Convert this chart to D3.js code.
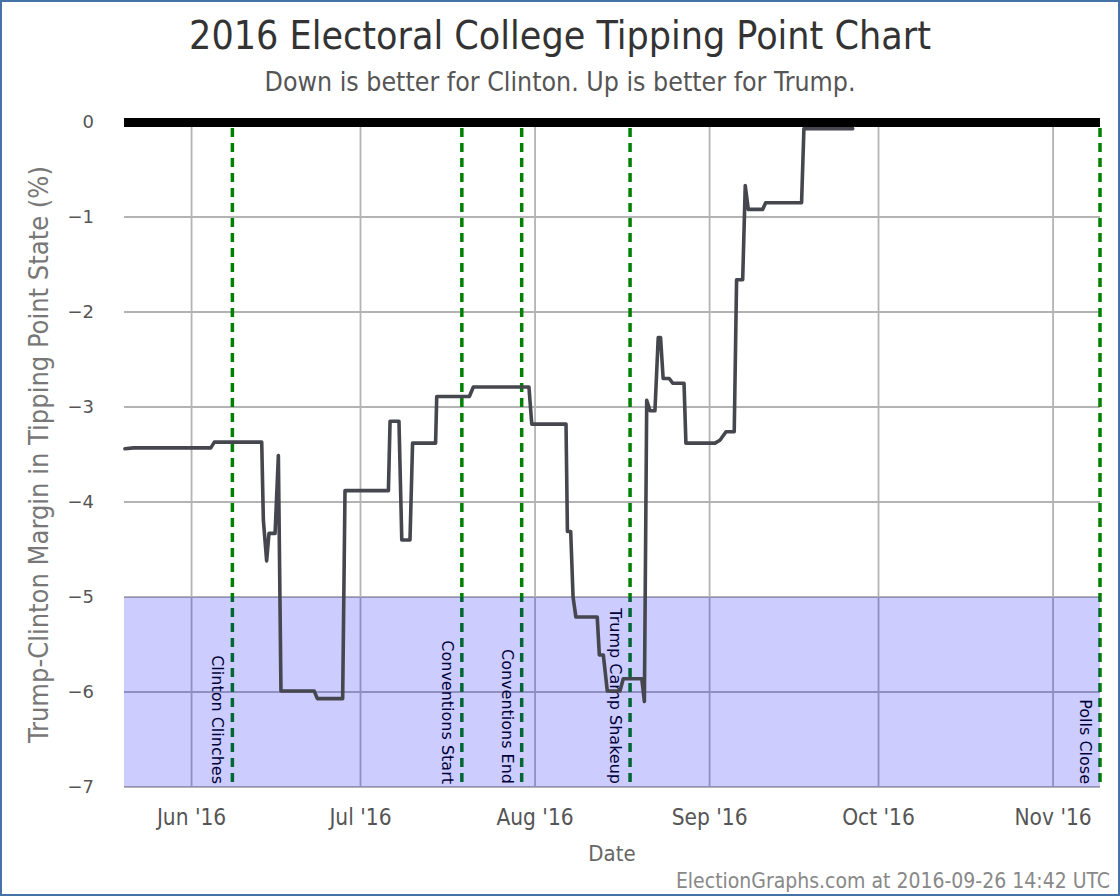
<!DOCTYPE html>
<html><head><meta charset="utf-8">
<script src="https://cdn.jsdelivr.net/npm/d3@7"></script>
<style>body{margin:0;background:#fff}svg{display:block}</style>
</head><body><svg id="c" width="1120" height="896"></svg>
<script>
// ---- data ----
const pointDates = [
 "2016-05-20T04","2016-05-21T16","2016-06-04T10","2016-06-05T01","2016-06-13T11","2016-06-13T18",
 "2016-06-14T08","2016-06-14T18","2016-06-15T20","2016-06-16T10","2016-06-16T21","2016-06-22T19",
 "2016-06-23T08","2016-06-27T20","2016-06-28T06","2016-07-05T23","2016-07-06T06","2016-07-07T20",
 "2016-07-08T08","2016-07-09T19","2016-07-10T06","2016-07-14T08","2016-07-14T13","2016-07-20T08",
 "2016-07-21T01","2016-07-30T22","2016-07-31T10","2016-08-06T12","2016-08-06T18","2016-08-07T08",
 "2016-08-07T18","2016-08-08T06","2016-08-12T01","2016-08-12T10","2016-08-13T03","2016-08-13T20",
 "2016-08-16T02","2016-08-16T16","2016-08-19T23","2016-08-20T10","2016-08-20T20","2016-08-21T10",
 "2016-08-22T07","2016-08-22T21","2016-08-23T07","2016-08-23T18","2016-08-24T20","2016-08-25T11",
 "2016-08-27T11","2016-08-27T19","2016-09-01T23","2016-09-02T20","2016-09-03T22","2016-09-05T09",
 "2016-09-05T19","2016-09-06T21","2016-09-07T08","2016-09-07T21","2016-09-10T10","2016-09-10T23",
 "2016-09-17T08","2016-09-17T18","2016-09-26T10"
];
const margins = [
 -3.44,-3.43,-3.43,-3.37,-3.37,-4.19,
 -4.62,-4.33,-4.33,-3.51,-5.99,-5.99,
 -6.07,-6.07,-3.88,-3.88,-3.15,-3.15,
 -4.40,-4.40,-3.38,-3.38,-2.89,-2.89,
 -2.79,-2.79,-3.18,-3.18,-4.31,-4.31,
 -5.00,-5.21,-5.21,-5.61,-5.61,-5.99,
 -5.99,-5.86,-5.86,-6.10,-2.93,-3.04,
 -3.04,-2.27,-2.27,-2.70,-2.70,-2.75,
 -2.75,-3.38,-3.38,-3.35,-3.26,-3.26,
 -1.66,-1.66,-0.67,-0.92,-0.92,-0.85,
 -0.85,-0.07,-0.07
];
const eventNames = ["Clinton Clinches","Conventions Start","Conventions End","Trump Camp Shakeup","Polls Close"];
const eventDates = ["2016-06-08T06","2016-07-19T00","2016-07-29T15","2016-08-17T21","2016-11-09T08"];
const xTickDates = ["2016-06-01T00","2016-07-01T00","2016-08-01T00","2016-09-01T00","2016-10-01T00","2016-11-01T00"];
const xTickLabels = ["Jun '16","Jul '16","Aug '16","Sep '16","Oct '16","Nov '16"];
const yTicks = [0,-1,-2,-3,-4,-5,-6,-7];
const xDomain = ["2016-05-20T00","2016-11-09T08"];
const yDomain = [-7,0];
const bandRange = [-7,-5];

// ---- drawing ----
const parse = d3.utcParse("%Y-%m-%dT%H");
const W = 1120, H = 896;
const L = 124, R = 1100, T = 122, B = 787;
const svg = d3.select("#c");
const x = d3.scaleUtc().domain(xDomain.map(parse)).range([L, R]);
const y = d3.scaleLinear().domain(yDomain).range([B, T]);

svg.append("rect").attr("x",0).attr("y",0).attr("width",W).attr("height",H).attr("fill","#fff");
svg.append("rect").attr("x",1).attr("y",1).attr("width",W-2).attr("height",H-2)
  .attr("fill","none").attr("stroke","#4572a7").attr("stroke-width",2);

const condensed = "'Liberation Sans Narrow','Arial Narrow','DejaVu Sans Condensed',sans-serif";
const regular = "'DejaVu Sans',Verdana,sans-serif";

svg.append("text").attr("x",560).attr("y",49).attr("text-anchor","middle")
  .attr("font-family",condensed).attr("font-size",39).attr("fill","#333")
  .text("2016 Electoral College Tipping Point Chart");
svg.append("text").attr("x",560).attr("y",91).attr("text-anchor","middle")
  .attr("font-family",condensed).attr("font-size",26.5).attr("fill","#555")
  .text("Down is better for Clinton. Up is better for Trump.");

// grid
const g = svg.append("g");
g.selectAll("line.v").data(xTickDates).join("line")
  .attr("x1",d=>x(parse(d))).attr("x2",d=>x(parse(d))).attr("y1",T).attr("y2",B)
  .attr("stroke","#b3b3b3").attr("stroke-width",1.8);
g.selectAll("line.h").data(yTicks).join("line").attr("class","h")
  .attr("x1",L).attr("x2",R).attr("y1",d=>y(d)).attr("y2",d=>y(d))
  .attr("stroke","#b3b3b3").attr("stroke-width",1.8);

// y tick labels
svg.selectAll("text.yt").data(yTicks).join("text").attr("class","yt")
  .attr("x",94).attr("y",d=>y(d)).attr("dy","0.35em").attr("text-anchor","end")
  .attr("font-family",regular).attr("font-size",18).attr("fill","#555")
  .text(d=>d3.format("d")(d));

// x tick labels
svg.selectAll("text.xt").data(xTickDates).join("text").attr("class","xt")
  .attr("x",d=>x(parse(d))).attr("y",825).attr("text-anchor","middle")
  .attr("font-family",condensed).attr("font-size",22.5).attr("fill","#555")
  .text((d,i)=>xTickLabels[i]);

// axis titles
svg.append("text").attr("x",(L+R)/2).attr("y",861).attr("text-anchor","middle")
  .attr("font-family",condensed).attr("font-size",22).attr("fill","#666").text("Date");
svg.append("text").attr("transform",`translate(48,${(T+B)/2}) rotate(-90)`).attr("text-anchor","middle")
  .attr("font-family",condensed).attr("font-size",27).attr("fill","#777")
  .text("Trump-Clinton Margin in Tipping Point State (%)");
svg.append("text").attr("x",1110).attr("y",888).attr("text-anchor","end")
  .attr("font-family",condensed).attr("font-size",21).attr("fill","#888")
  .text("ElectionGraphs.com at 2016-09-26 14:42 UTC");

// events
const ev = svg.append("g");
ev.selectAll("line").data(eventDates).join("line")
  .attr("x1",d=>x(parse(d))).attr("x2",d=>x(parse(d))).attr("y1",T+6).attr("y2",B)
  .attr("stroke","#008000").attr("stroke-width",3.5).attr("stroke-dasharray","9,6");
ev.selectAll("text").data(eventDates).join("text")
  .attr("transform",d=>`translate(${x(parse(d))-20},${B-3}) rotate(90)`)
  .attr("text-anchor","end")
  .attr("font-family",regular).attr("font-size",16).attr("fill","#000")
  .text((d,i)=>eventNames[i]);

// band
svg.append("rect").attr("x",L).attr("width",R-L)
  .attr("y",y(bandRange[1])).attr("height",y(bandRange[0])-y(bandRange[1]))
  .attr("fill","rgba(0,0,255,0.2)");

// data line
const pts = pointDates.map((d,i)=>[parse(d),margins[i]]);
svg.append("path").datum(pts)
  .attr("d",d3.line().x(d=>x(d[0])).y(d=>y(d[1])))
  .attr("fill","none").attr("stroke","#46464e").attr("stroke-width",3.6)
  .attr("stroke-linejoin","round").attr("stroke-linecap","round");

// zero line
svg.append("line").attr("x1",L).attr("x2",R).attr("y1",y(0)+0.5).attr("y2",y(0)+0.5)
  .attr("stroke","#000").attr("stroke-width",9);
</script></body></html>
